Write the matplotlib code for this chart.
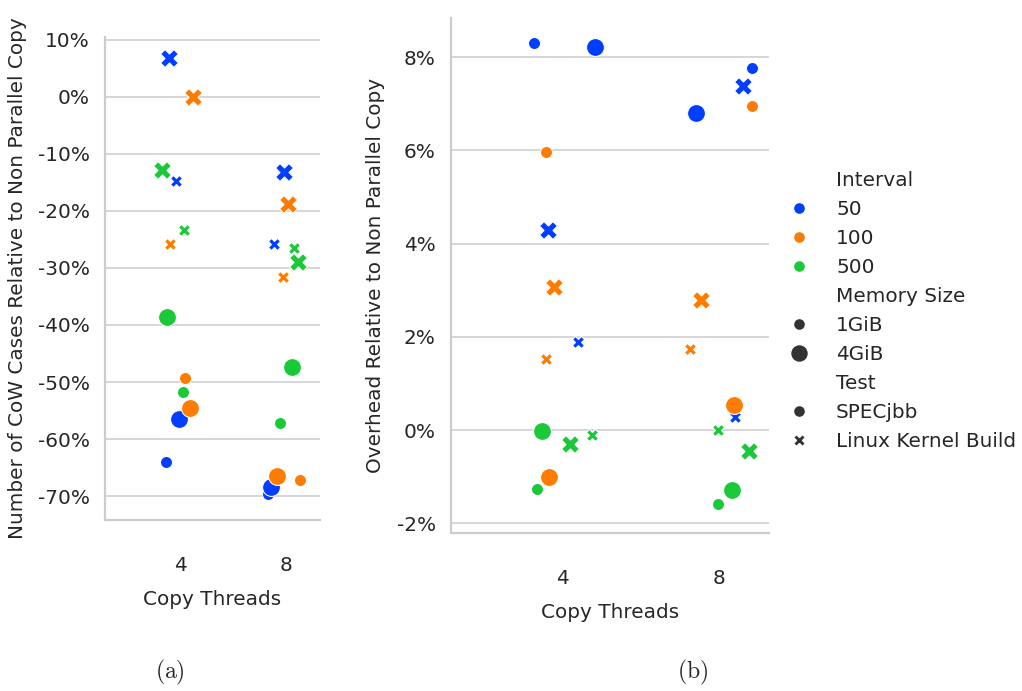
import numpy as np
import matplotlib
matplotlib.use("Agg")
import matplotlib.pyplot as plt
import seaborn as sns
from matplotlib.lines import Line2D
from matplotlib.ticker import FuncFormatter

# combos in order: interval x memory x test
intervals = [50, 50, 50, 50, 100, 100, 100, 100, 500, 500, 500, 500]
memory = ['1GiB', '1GiB', '4GiB', '4GiB'] * 3
tests = ['SPECjbb', 'Linux Kernel Build'] * 6
threads = ['4', '8']

# (a) CoW cases relative to non parallel copy (%), columns: 4 threads, 8 threads
cow_4 = [-64.0, -14.7, -56.5, 6.8, -49.3, -25.8, -54.6, 0.0, -51.8, -23.3, -38.6, -12.8]
cow_8 = [-69.6, -25.8, -68.4, -13.2, -67.2, -31.6, -66.5, -18.8, -57.2, -26.5, -47.4, -29.0]
cow_jit_4 = [-0.13, -0.04, -0.01, -0.10, 0.05, -0.09, 0.09, 0.12, 0.03, 0.04, -0.12, -0.17]
cow_jit_8 = [-0.17, -0.12, -0.15, -0.02, 0.13, -0.03, -0.09, 0.01, -0.06, 0.07, 0.05, 0.11]

# (b) overhead relative to non parallel copy (%)
ovh_4 = [8.30, 1.89, 8.22, 4.29, 5.97, 1.52, -1.01, 3.07, -1.27, -0.11, -0.02, -0.30]
ovh_8 = [7.77, 0.28, 6.80, 7.38, 6.96, 1.74, 0.54, 2.79, -1.59, 0.00, -1.29, -0.45]
ovh_jit_4 = [-0.18, 0.10, 0.21, -0.09, -0.10, -0.10, -0.08, -0.05, -0.16, 0.19, -0.13, 0.05]
ovh_jit_8 = [0.21, 0.10, -0.15, 0.15, 0.21, -0.19, 0.09, -0.12, -0.01, -0.01, 0.08, 0.19]

colors = {50: '#023eff', 100: '#ff7c00', 500: '#1ac938'}
sizes = {'1GiB': 75, '4GiB': 165}
markers = {'SPECjbb': 'o', 'Linux Kernel Build': 'X'}

sns.set_style("whitegrid")
plt.rcParams['font.family'] = ['DejaVu Sans']
plt.rcParams['mathtext.fontset'] = 'cm'
fs = 14.4

fig = plt.figure(figsize=(10.22, 6.91), dpi=100)
ax1 = fig.add_axes([105/1022, 1 - 520/691, 215/1022, 483/691])
ax2 = fig.add_axes([451/1022, 1 - 533/691, 318/1022, 515/691])


def draw(ax, vals, jits, ylim, yticks, ylabel):
    for t, (v, j) in enumerate(zip(vals, jits)):
        for k in range(len(intervals)):
            ax.scatter(t + j[k], v[k], s=sizes[memory[k]], marker=markers[tests[k]],
                       color=colors[intervals[k]], edgecolor='white', linewidth=0.75, zorder=3)
    ax.set_xticks(range(len(threads)))
    ax.set_xticklabels(threads)
    ax.set_xlim(-0.705, 1.315)
    ax.set_ylim(*ylim)
    ax.set_yticks(yticks)
    ax.yaxis.set_major_formatter(FuncFormatter(lambda v, p: f"{int(round(v))}%"))
    ax.grid(axis='x', visible=False)
    ax.grid(axis='y', color='#cccccc', linewidth=1.1)
    for s in ['top', 'right']:
        ax.spines[s].set_visible(False)
    for s in ['left', 'bottom']:
        ax.spines[s].set_color('#cccccc')
        ax.spines[s].set_linewidth(1.6)
    ax.tick_params(axis='y', labelsize=fs, pad=11, length=0, colors='#262626')
    ax.tick_params(axis='x', labelsize=fs, pad=26, length=0, colors='#262626')
    ax.set_xlabel('Copy Threads', fontsize=fs, color='#262626', labelpad=11)
    ax.set_ylabel(ylabel, fontsize=fs, color='#262626', labelpad=8)


draw(ax1, [cow_4, cow_8], [cow_jit_4, cow_jit_8], (-74.2, 10.5), range(-70, 11, 10),
     'Number of CoW Cases Relative to Non Parallel Copy')
draw(ax2, [ovh_4, ovh_8], [ovh_jit_4, ovh_jit_8], (-2.21, 8.84), range(-2, 9, 2),
     'Overhead Relative to Non Parallel Copy')

# legend in seaborn style
blank = Line2D([], [], linestyle='none', marker='')
handles, labels = [blank], ['Interval']
for iv in [50, 100, 500]:
    handles.append(Line2D([], [], linestyle='none', marker='o', markersize=np.sqrt(75),
                          color=colors[iv], markeredgecolor='white'))
    labels.append(str(iv))
handles.append(blank); labels.append('Memory Size')
for m in ['1GiB', '4GiB']:
    handles.append(Line2D([], [], linestyle='none', marker='o', markersize=np.sqrt(sizes[m]),
                          color='#333333', markeredgecolor='white'))
    labels.append(m)
handles.append(blank); labels.append('Test')
for t in ['SPECjbb', 'Linux Kernel Build']:
    handles.append(Line2D([], [], linestyle='none', marker=markers[t], markersize=np.sqrt(75),
                          color='#333333', markeredgecolor='white'))
    labels.append(t)
fig.legend(handles, labels, loc='center left', bbox_to_anchor=(776/1022, 1 - 311/691),
           frameon=False, fontsize=fs, labelspacing=0.5, handletextpad=1.1,
           handlelength=1.5, labelcolor='#262626', borderaxespad=0)

fig.text(170/1022, 1 - 672/691, r'$\mathrm{(a)}$', fontsize=17, ha='center', va='center')
fig.text(693/1022, 1 - 672/691, r'$\mathrm{(b)}$', fontsize=17, ha='center', va='center')

fig.savefig('out.png', dpi=100)
